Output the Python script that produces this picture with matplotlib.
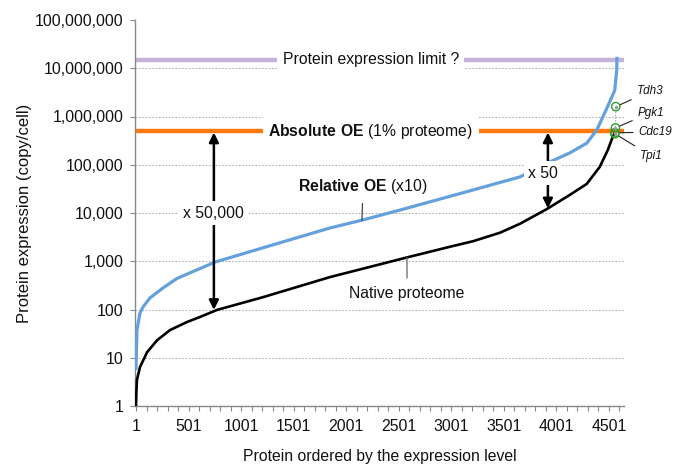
import matplotlib
matplotlib.use("Agg")
import matplotlib.pyplot as plt
from matplotlib.ticker import FixedLocator, NullLocator, FuncFormatter

plt.rcParams['font.family'] = ['Liberation Sans', 'DejaVu Sans']
plt.rcParams['mathtext.fontset'] = 'custom'
plt.rcParams['mathtext.rm'] = 'Liberation Sans'
plt.rcParams['mathtext.bf'] = 'Liberation Sans:bold'

# ---- data ----
native_idx = [1, 5, 10, 39, 106, 201, 325, 486, 610, 772, 1209, 1847, 2579, 2989,
              3207, 3464, 3655, 3908, 4127, 4289, 4413, 4489, 4537, 4558]
native_val = [1.0, 2.0, 3.5, 6.4, 13, 23, 37.5, 55, 70, 98, 180, 470, 1200, 2000,
              2600, 3900, 6000, 12000, 23600, 40000, 90000, 200000, 380000, 460000]

relative_idx = [1, 10, 39, 68, 134, 258, 391, 752, 1209, 1847, 2151, 2513, 3207,
                3655, 3936, 4127, 4289, 4384, 4460, 4527, 4556, 4575, 4577]
relative_val = [6, 37, 85, 113, 174, 280, 440, 960, 1900, 4900, 7100, 11500, 30000,
                56000, 114000, 175000, 280000, 520000, 1180000, 2500000, 3500000,
                9200000, 16000000]

gene_names = ['Tdh3', 'Pgk1', 'Cdc19', 'Tpi1']
gene_idx = [4566, 4562, 4558, 4557]
gene_val = [1600000, 580000, 460000, 440000]

absolute_oe = 500000        # 1% proteome
expression_limit = 15000000

x_major = [1, 501, 1001, 1501, 2001, 2501, 3001, 3501, 4001, 4501]
y_ticks = [1, 10, 100, 1000, 10000, 100000, 1000000, 10000000, 100000000]

arrow_left_idx = 742
arrow_left_low = 98
arrow_right_idx = 3920
arrow_right_low = 12500

# ---- figure ----
W, H = 674, 466
fig = plt.figure(figsize=(W / 100, H / 100), dpi=100)
ax = fig.add_axes([135 / W, 60 / H, 489 / W, 386 / H])

ax.set_yscale('log')
ax.set_ylim(1, 1e8)
ax.set_xlim(-8.5, 4644)

# grid
for v in y_ticks[1:-1]:
    ax.axhline(v, color='#b0b0b0', lw=0.8, ls=(0, (1.5, 1.5)), zorder=0)

# horizontal reference lines
ax.axhline(expression_limit, color='#c4b2d8', lw=3.2, zorder=2, solid_capstyle='butt')
ax.axhline(absolute_oe, color='#ff7a0e', lw=3.2, zorder=2, solid_capstyle='butt')

# curves
ax.plot(native_idx, native_val, color='black', lw=1.9, zorder=3,
        solid_joinstyle='round')
ax.plot(relative_idx, relative_val, color='#64a0dc', lw=2.3, zorder=3,
        solid_joinstyle='round')

# gene points
ax.plot(gene_idx[:2], gene_val[:2], color='#999999', lw=0.8, ls=(0, (1, 1.5)), zorder=3)
ax.scatter(gene_idx, gene_val, s=36, facecolors='none', edgecolors='#2ca02c',
           linewidths=1.0, zorder=5)
ax.scatter(gene_idx, gene_val, s=2, color='#999999', zorder=5)

offsets = {'Tdh3': (15, 11), 'Pgk1': (16, 11), 'Cdc19': (17, 0.5), 'Tpi1': (18, -16)}
for name, gi, gv in zip(gene_names, gene_idx, gene_val):
    ax.annotate(name, xy=(gi, gv), xytext=offsets[name], textcoords='offset points',
                fontsize=8.4, style='italic', ha='left', va='center',
                annotation_clip=False, color='#111111',
                arrowprops=dict(arrowstyle='-', color='#222222', lw=0.8,
                                shrinkA=2, shrinkB=3))

# double arrows
for xi, lo in [(arrow_left_idx, arrow_left_low), (arrow_right_idx, arrow_right_low)]:
    ax.annotate('', xy=(xi, lo), xytext=(xi, absolute_oe * 0.93),
                arrowprops=dict(arrowstyle='<|-|>', color='black', lw=1.8,
                                mutation_scale=14, shrinkA=0, shrinkB=0), zorder=4)

FS = 11.3
box = dict(facecolor='white', edgecolor='none', pad=3)
ax.text(742, 10000, 'x 50,000', fontsize=FS, ha='center', va='center',
        bbox=box, zorder=6, color='#111111')
ax.text(3874, 67000, 'x 50', fontsize=FS, ha='center', va='center',
        bbox=box, zorder=6, color='#111111')

ax.text(2235, expression_limit, 'Protein expression limit ?', fontsize=FS,
        ha='center', va='center', bbox=dict(facecolor='white', edgecolor='none', pad=4),
        zorder=6, color='#111111')
ax.text(2235, absolute_oe, r'$\mathbf{Absolute\ OE}$ (1% proteome)', fontsize=FS,
        ha='center', va='center', bbox=dict(facecolor='white', edgecolor='none', pad=4),
        zorder=6, color='#111111')

ax.annotate(r'$\mathbf{Relative\ OE}$ (x10)', xy=(2151, 7100), xytext=(2161, 34600),
            fontsize=FS, ha='center', va='center', color='#111111',
            arrowprops=dict(arrowstyle='-', color='#444444', lw=0.9, shrinkA=3, shrinkB=0),
            zorder=6)
ax.annotate('Native proteome', xy=(2579, 1200), xytext=(2580, 210),
            fontsize=FS, ha='center', va='center', color='#111111',
            arrowprops=dict(arrowstyle='-', color='#666666', lw=0.9, shrinkA=4, shrinkB=0),
            zorder=6)

# axes styling
for s in ['top', 'right']:
    ax.spines[s].set_visible(False)
for s in ['left', 'bottom']:
    ax.spines[s].set_color('#888888')
    ax.spines[s].set_linewidth(1.0)

ax.yaxis.set_major_locator(FixedLocator(y_ticks))
ax.yaxis.set_minor_locator(NullLocator())
ax.yaxis.set_major_formatter(FuncFormatter(lambda v, p: f'{int(round(v)):,}'))
ax.xaxis.set_major_locator(FixedLocator(x_major))
ax.xaxis.set_minor_locator(FixedLocator(list(range(1, 4602, 100))))
ax.set_xticklabels([str(v) for v in x_major])

ax.tick_params(axis='both', which='both', direction='out', length=3.5, width=0.8,
               color='#888888', labelsize=11.4, labelcolor='#111111')
ax.tick_params(axis='y', pad=5)
ax.tick_params(axis='x', pad=6)

ax.set_xlabel('Protein ordered by the expression level', fontsize=11.3, color='#111111',
              labelpad=11)
ax.set_ylabel('Protein expression (copy/cell)', fontsize=12, color='#111111',
              labelpad=2)

fig.savefig('out.png', dpi=100)
